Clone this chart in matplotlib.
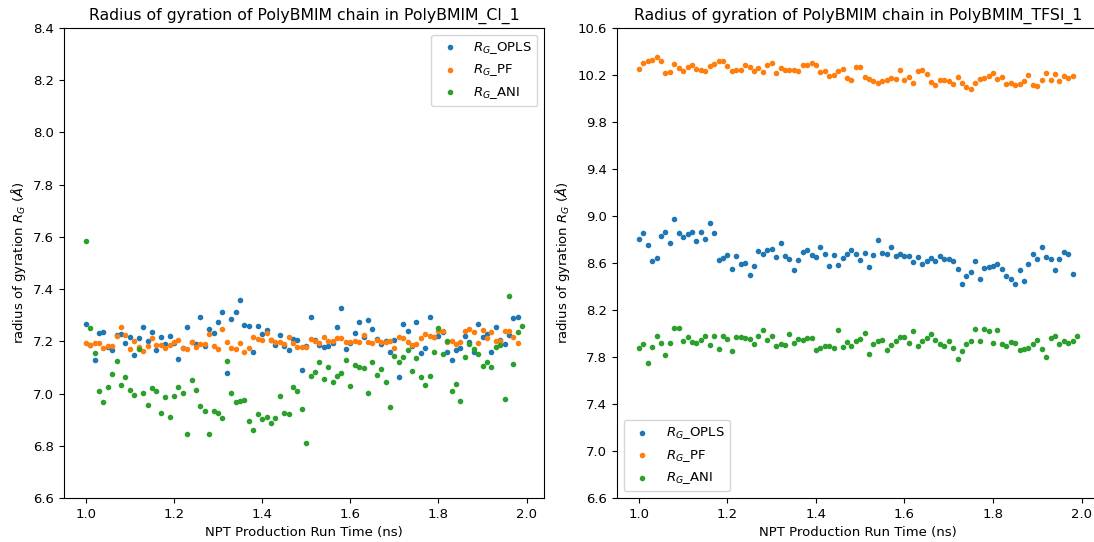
import numpy as np
import matplotlib
matplotlib.use('Agg')
import matplotlib.pyplot as plt

# time axis (ns)
timeRG = [round(1.0 + 0.01 * k, 2) for k in range(100)]

# PolyBMIM_Cl_1
cl_opls = [7.268, 7.185, 7.127, 7.233, 7.237, 7.177, 7.165, 7.224, 7.228, 7.193,
           7.215, 7.147, 7.211, 7.254, 7.201, 7.237, 7.165, 7.215, 7.191, 7.222,
           7.194, 7.131, 7.175, 7.254, 7.197, 7.188, 7.294, 7.183, 7.247, 7.233,
           7.275, 7.311, 7.077, 7.286, 7.314, 7.358, 7.262, 7.257, 7.159, 7.257,
           7.229, 7.243, 7.206, 7.185, 7.226, 7.184, 7.165, 7.208, 7.205, 7.090,
           7.183, 7.293, 7.207, 7.185, 7.179, 7.182, 7.193, 7.253, 7.326, 7.171,
           7.192, 7.233, 7.275, 7.215, 7.283, 7.249, 7.210, 7.189, 7.201, 7.159,
           7.207, 7.062, 7.265, 7.239, 7.183, 7.275, 7.155, 7.175, 7.293, 7.217,
           7.222, 7.237, 7.161, 7.129, 7.165, 7.175, 7.222, 7.197, 7.159, 7.265,
           7.217, 7.229, 7.161, 7.253, 7.207, 7.189, 7.226, 7.289, 7.293]
cl_pf = [7.192, 7.185, 7.194, 7.192, 7.173, 7.183, 7.183, 7.219, 7.254, 7.226,
         7.169, 7.201, 7.177, 7.163, 7.183, 7.211, 7.185, 7.185, 7.175, 7.185,
         7.196, 7.205, 7.173, 7.171, 7.196, 7.179, 7.190, 7.190, 7.230, 7.183,
         7.171, 7.247, 7.197, 7.175, 7.171, 7.193, 7.159, 7.175, 7.215, 7.208,
         7.205, 7.233, 7.205, 7.198, 7.197, 7.189, 7.215, 7.194, 7.179, 7.179,
         7.179, 7.210, 7.201, 7.192, 7.217, 7.201, 7.203, 7.211, 7.214, 7.197,
         7.199, 7.203, 7.197, 7.226, 7.197, 7.193, 7.207, 7.196, 7.198, 7.201,
         7.175, 7.215, 7.211, 7.197, 7.185, 7.190, 7.211, 7.229, 7.219, 7.217,
         7.240, 7.239, 7.197, 7.203, 7.190, 7.199, 7.239, 7.247, 7.237, 7.193,
         7.243, 7.211, 7.235, 7.203, 7.203, 7.239, 7.239, 7.217, 7.193]
cl_ani = [7.585, 7.251, 7.155, 7.008, 6.966, 7.026, 7.076, 7.123, 7.033, 7.062,
          7.013, 6.994, 7.169, 7.004, 6.958, 7.023, 7.009, 6.926, 6.988, 6.912,
          6.991, 7.026, 7.004, 6.847, 7.051, 7.012, 6.952, 6.934, 6.847, 6.934,
          6.926, 6.908, 7.125, 7.004, 6.968, 6.972, 6.977, 6.894, 6.859, 6.922,
          6.902, 6.910, 6.887, 6.906, 6.990, 6.926, 6.922, 7.026, 7.008, 6.940,
          6.811, 7.068, 7.082, 7.119, 7.054, 7.100, 7.044, 7.069, 7.079, 7.129,
          7.028, 7.108, 7.100, 7.096, 7.004, 7.119, 7.072, 7.093, 7.044, 6.948,
          7.143, 7.122, 7.139, 7.168, 7.087, 7.137, 7.065, 7.033, 7.068, 7.161,
          7.251, 7.151, 7.203, 7.008, 7.036, 6.970, 7.139, 7.189, 7.169, 7.151,
          7.104, 7.119, 7.100, 7.179, 7.185, 6.980, 7.374, 7.115, 7.235, 7.257]

# PolyBMIM_TFSI_1
tfsi_opls = [8.804, 8.853, 8.750, 8.617, 8.640, 8.830, 8.861, 8.767, 8.972, 8.853,
             8.821, 8.847, 8.861, 8.790, 8.861, 8.804, 8.940, 8.853, 8.623, 8.640,
             8.671, 8.552, 8.662, 8.591, 8.600, 8.495, 8.577, 8.702, 8.679, 8.711,
             8.719, 8.648, 8.767, 8.662, 8.631, 8.538, 8.623, 8.694, 8.711, 8.671,
             8.654, 8.733, 8.679, 8.577, 8.671, 8.583, 8.640, 8.679, 8.711, 8.679,
             8.623, 8.688, 8.569, 8.671, 8.796, 8.688, 8.679, 8.733, 8.657, 8.679,
             8.657, 8.657, 8.608, 8.648, 8.591, 8.617, 8.640, 8.617, 8.657, 8.631,
             8.631, 8.617, 8.546, 8.418, 8.489, 8.521, 8.617, 8.464, 8.560, 8.569,
             8.577, 8.591, 8.552, 8.489, 8.464, 8.418, 8.538, 8.450, 8.591, 8.679,
             8.631, 8.733, 8.648, 8.631, 8.538, 8.631, 8.694, 8.679, 8.506]
tfsi_pf = [10.248, 10.302, 10.319, 10.328, 10.353, 10.316, 10.214, 10.223, 10.296, 10.262,
           10.237, 10.268, 10.288, 10.254, 10.245, 10.231, 10.279, 10.296, 10.319, 10.319,
           10.279, 10.231, 10.240, 10.245, 10.288, 10.265, 10.231, 10.257, 10.223, 10.288,
           10.302, 10.214, 10.262, 10.245, 10.245, 10.240, 10.231, 10.288, 10.288, 10.305,
           10.288, 10.223, 10.231, 10.189, 10.197, 10.231, 10.254, 10.177, 10.157, 10.271,
           10.271, 10.183, 10.166, 10.152, 10.135, 10.152, 10.157, 10.174, 10.166, 10.240,
           10.157, 10.183, 10.135, 10.231, 10.245, 10.206, 10.143, 10.118, 10.157, 10.157,
           10.152, 10.126, 10.183, 10.135, 10.095, 10.078, 10.135, 10.166, 10.174, 10.191,
           10.214, 10.166, 10.183, 10.126, 10.135, 10.118, 10.126, 10.152, 10.197, 10.112,
           10.104, 10.157, 10.214, 10.157, 10.206, 10.152, 10.191, 10.174, 10.191]
tfsi_ani = [7.879, 7.911, 7.750, 7.888, 7.982, 7.919, 7.817, 7.919, 8.047, 8.047,
            7.933, 7.967, 7.925, 7.919, 7.942, 7.982, 7.902, 7.982, 7.871, 7.982,
            7.950, 7.848, 7.967, 7.973, 7.959, 7.950, 7.911, 7.982, 8.030, 7.942,
            7.982, 7.894, 7.911, 7.902, 7.999, 7.919, 7.950, 7.942, 7.959, 7.959,
            7.862, 7.879, 7.894, 7.894, 7.879, 8.030, 7.888, 7.925, 7.894, 7.933,
            7.950, 8.004, 7.826, 7.911, 7.933, 7.942, 7.857, 7.902, 7.933, 7.973,
            7.973, 7.919, 8.021, 7.894, 7.933, 7.959, 7.999, 7.942, 7.911, 7.894,
            7.933, 7.879, 7.786, 7.848, 7.911, 7.933, 8.038, 7.933, 8.038, 8.021,
            7.919, 8.030, 7.911, 7.894, 7.925, 7.919, 7.862, 7.871, 7.879, 7.911,
            7.942, 7.871, 7.800, 7.959, 7.982, 7.911, 7.933, 7.919, 7.933, 7.982]

clTicks = np.arange(6.6, 8.41, 0.2)
tfsiTicks = np.arange(6.6, 10.61, 0.4)

plt.rcParams['font.size'] = 9.5

fig = plt.figure(figsize=(10.94, 5.42), dpi=100)
ax1 = fig.add_axes([64 / 1094, 44 / 542, 480 / 1094, 470 / 542])
ax2 = fig.add_axes([617 / 1094, 44 / 542, 482 / 1094, 470 / 542])

def plotRG(ax, opls, pf, ani, title, ticks, loc):
    ax.scatter(timeRG[:len(opls)], opls, s=9, label=r'$R_G$_OPLS')
    ax.scatter(timeRG[:len(pf)], pf, s=9, label=r'$R_G$_PF')
    ax.scatter(timeRG[:len(ani)], ani, s=9, label=r'$R_G$_ANI')
    ax.set_ylim(ticks[0], ticks[-1])
    ax.set_yticks(ticks)
    ax.set_yticklabels([f'{t:.1f}' for t in ticks])
    ax.set_xlabel('NPT Production Run Time (ns)')
    ax.set_ylabel(r'radius of gyration $R_G$ ($\AA$)')
    ax.set_title(title, fontsize=11.3)
    ax.legend(loc=loc)

plotRG(ax1, cl_opls, cl_pf, cl_ani, 'Radius of gyration of PolyBMIM chain in PolyBMIM_Cl_1', clTicks, 'upper right')
plotRG(ax2, tfsi_opls, tfsi_pf, tfsi_ani, 'Radius of gyration of PolyBMIM chain in PolyBMIM_TFSI_1', tfsiTicks, 'lower left')
# the right panel runs off the edge of the picture
ax2.spines['right'].set_visible(False)

fig.savefig('out.png', dpi=100)
